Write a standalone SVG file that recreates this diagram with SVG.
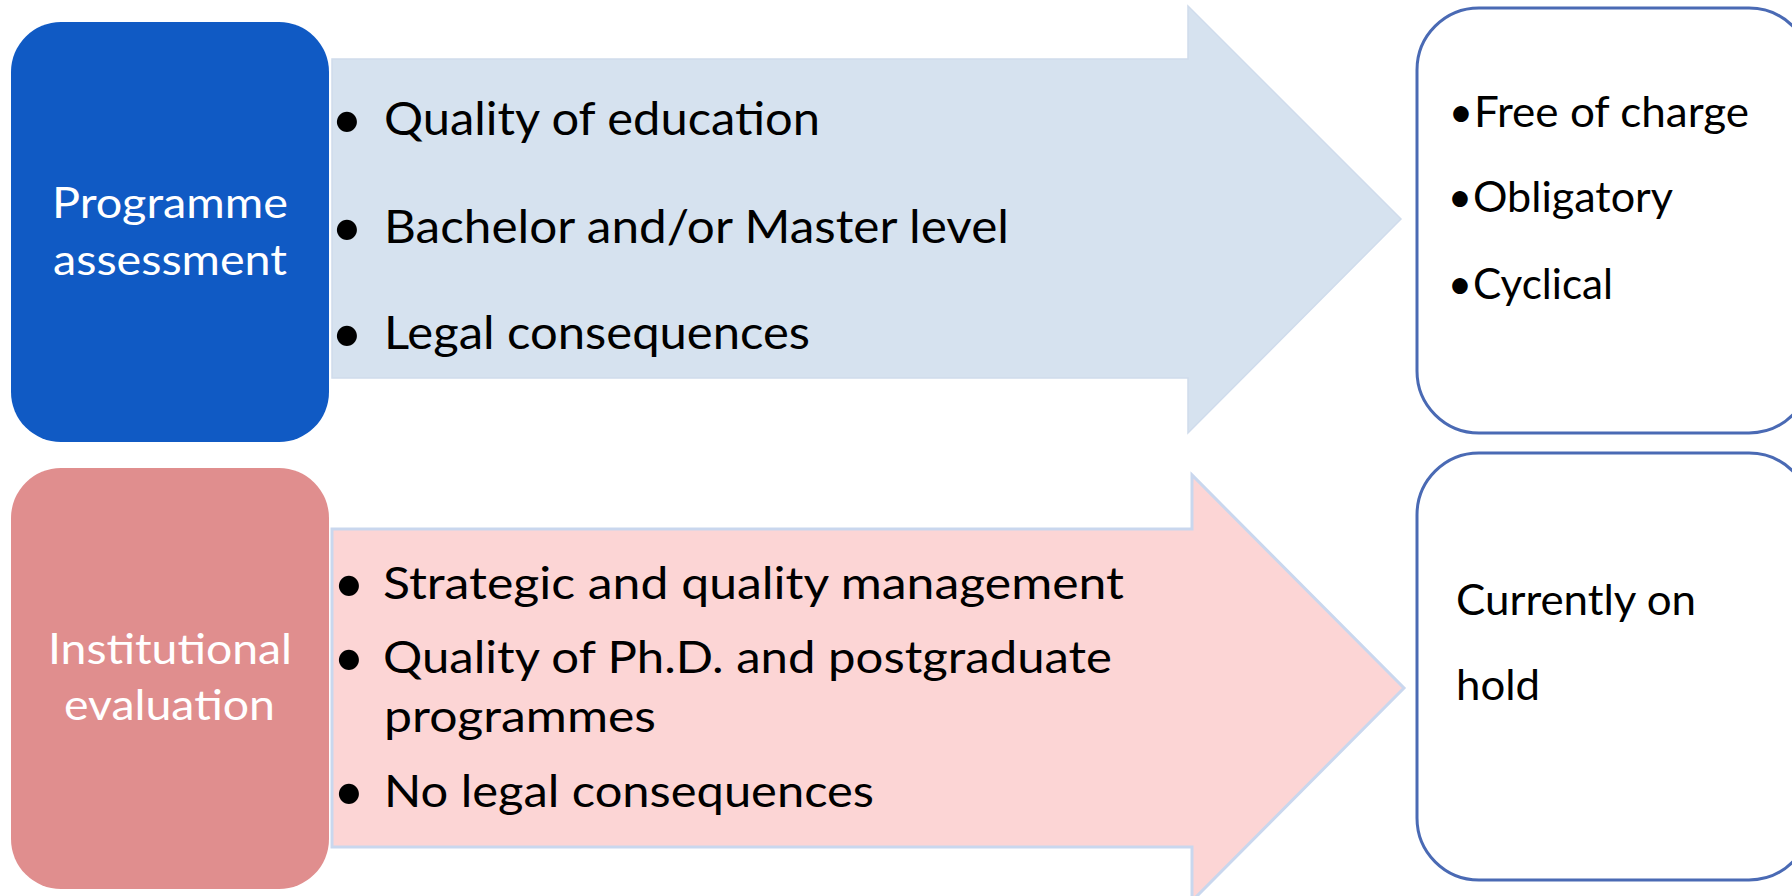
<svg xmlns="http://www.w3.org/2000/svg" width="1792" height="896" viewBox="0 0 1792 896">
<style>
.t{font-family:Lato,"Open Sans","Liberation Sans",sans-serif;fill:#000}
.w{font-family:Lato,"Open Sans","Liberation Sans",sans-serif;fill:#fff}
.rb{fill:#fff;stroke:#4A6AB4;stroke-width:3}
.b{font-size:54px}
</style>
<rect width="1792" height="896" fill="#fff"/>
<g id="connectors">
  <g id="arrow-top">
    <path d="M332 59 H1188 V6 L1401 219 L1188 433 V378 H332 Z" fill="#D6E2EF" stroke="#D0DCEC" stroke-width="1.5"/>
    <g class="t" font-size="46">
      <text class="b" x="347" y="138" text-anchor="middle">•</text>
      <text x="384" y="135" textLength="436" lengthAdjust="spacingAndGlyphs">Quality of education</text>
      <text class="b" x="347" y="246" text-anchor="middle">•</text>
      <text x="384" y="243" textLength="625" lengthAdjust="spacingAndGlyphs">Bachelor and/or Master level</text>
      <text class="b" x="347" y="352" text-anchor="middle">•</text>
      <text x="384" y="349" textLength="426" lengthAdjust="spacingAndGlyphs">Legal consequences</text>
    </g>
  </g>
  <g id="arrow-bottom">
    <path d="M332 529 H1192 V475 L1404 688 L1192 901 V847 H332 Z" fill="#FCD5D5" stroke="#C9D7EE" stroke-width="3"/>
    <g class="t" font-size="44">
      <text class="b" x="349" y="602" text-anchor="middle">•</text>
      <text x="383" y="599" textLength="741" lengthAdjust="spacingAndGlyphs">Strategic and quality management</text>
      <text class="b" x="349" y="676" text-anchor="middle">•</text>
      <text x="383" y="673" textLength="729" lengthAdjust="spacingAndGlyphs">Quality of Ph.D. and postgraduate</text>
      <text x="384" y="732" textLength="272" lengthAdjust="spacingAndGlyphs">programmes</text>
      <text class="b" x="349" y="810" text-anchor="middle">•</text>
      <text x="384" y="807" textLength="490" lengthAdjust="spacingAndGlyphs">No legal consequences</text>
    </g>
  </g>
</g>
<g id="programme-assessment">
  <rect x="11" y="22" width="318" height="420" rx="50" fill="#105AC4"/>
  <g class="w" font-size="42">
    <text x="52" y="218" textLength="236" lengthAdjust="spacingAndGlyphs">Programme</text>
    <text x="53" y="275" textLength="234" lengthAdjust="spacingAndGlyphs">assessment</text>
  </g>
</g>
<g id="institutional-evaluation">
  <rect x="11" y="468" width="318" height="421" rx="50" fill="#E08E8E"/>
  <g class="w" font-size="42">
    <text x="48" y="664" textLength="244" lengthAdjust="spacingAndGlyphs">Institutional</text>
    <text x="64" y="720" textLength="211" lengthAdjust="spacingAndGlyphs">evaluation</text>
  </g>
</g>
<g id="features-box">
  <rect class="rb" x="1417" y="8" width="394" height="425" rx="62"/>
  <g class="t" font-size="42">
    <text x="1473" y="127" text-anchor="end">•</text>
    <text x="1474" y="127" textLength="275" lengthAdjust="spacingAndGlyphs">Free of charge</text>
    <text x="1472" y="212" text-anchor="end">•</text>
    <text x="1473" y="212" textLength="200" lengthAdjust="spacingAndGlyphs">Obligatory</text>
    <text x="1472" y="299" text-anchor="end">•</text>
    <text x="1473" y="299" textLength="140" lengthAdjust="spacingAndGlyphs">Cyclical</text>
  </g>
</g>
<g id="status-box">
  <rect class="rb" x="1417" y="453" width="394" height="427" rx="62"/>
  <g class="t" font-size="42">
    <text x="1456" y="615" textLength="240" lengthAdjust="spacingAndGlyphs">Currently on</text>
    <text x="1456" y="700" textLength="84" lengthAdjust="spacingAndGlyphs">hold</text>
  </g>
</g>
</svg>
